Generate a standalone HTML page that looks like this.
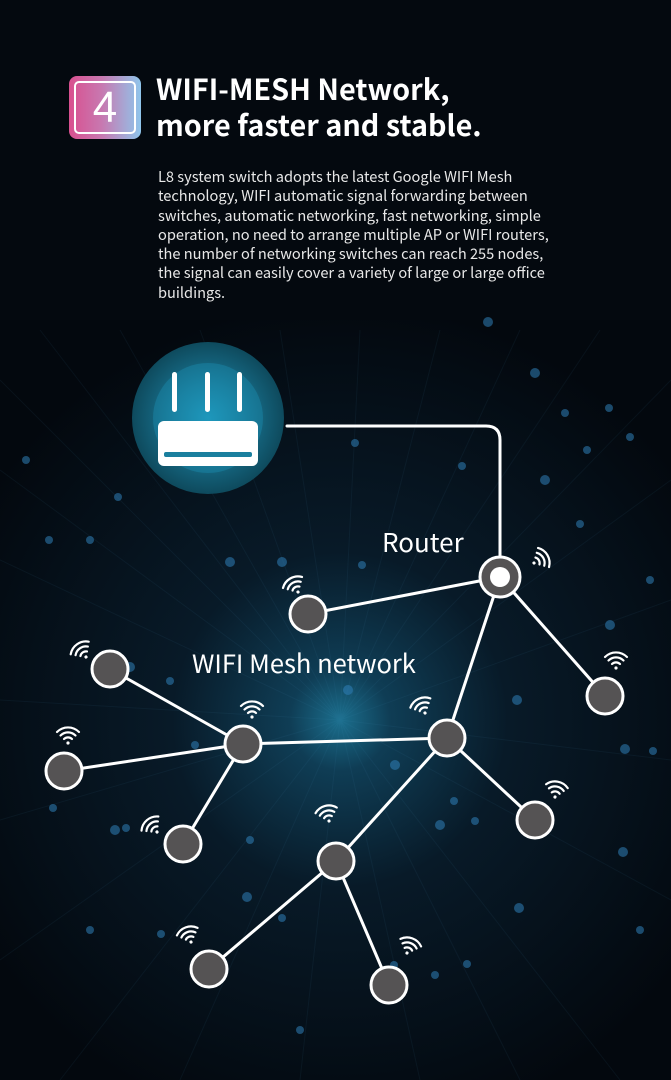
<!DOCTYPE html>
<html><head><meta charset="utf-8"><style>
html,body{margin:0;padding:0;background:#04090f;}
body{width:671px;height:1080px;position:relative;overflow:hidden;font-family:"Noto Sans CJK SC","Liberation Sans",sans-serif;}
.badge{position:absolute;left:69px;top:76px;width:72px;height:63px;border-radius:8px;background:linear-gradient(90deg,#d9508f,#c878b0 45%,#8fc6ec);}
.badge div{position:absolute;left:5px;top:5px;right:5px;bottom:5px;border:2.5px solid #fff;border-radius:5px;color:#fff;font-size:44px;text-align:center;line-height:50px;font-family:"Liberation Sans",sans-serif;}
h1{position:absolute;left:156px;top:71px;margin:0;color:#fff;font-size:28.8px;line-height:36px;font-weight:bold;white-space:nowrap;}
p{position:absolute;left:158px;top:167px;margin:0;color:#e8e8e8;font-size:14.6px;line-height:19.3px;white-space:nowrap;}
svg{position:absolute;left:0;top:0;}
</style></head><body>
<svg width="671" height="1080" viewBox="0 0 671 1080">
<defs>
<radialGradient id="bg" cx="340" cy="720" r="420" gradientUnits="userSpaceOnUse">
<stop offset="0" stop-color="#1b6f8e"/><stop offset="0.12" stop-color="#0f3d55"/><stop offset="0.4" stop-color="#081a28"/><stop offset="1" stop-color="#03080e"/></radialGradient>
<radialGradient id="rc" cx="0.5" cy="0.5" r="0.5">
<stop offset="0" stop-color="#22a9d0"/><stop offset="0.45" stop-color="#1a7f9e"/><stop offset="0.75" stop-color="#135e76"/><stop offset="1" stop-color="#0e4a5d"/></radialGradient>
<g id="wf" fill="none" stroke="#fff" stroke-width="2.2" stroke-linecap="round"><circle cx="0" cy="0" r="1.6" fill="#fff" stroke="none"/><path d="M-4,-4 A5.7,5.7 0 0 1 4,-4"/><path d="M-7.5,-7.5 A10.6,10.6 0 0 1 7.5,-7.5"/><path d="M-11,-11 A15.5,15.5 0 0 1 11,-11"/></g>
</defs>
<rect width="671" height="1080" fill="#04090f"/>
<rect y="320" width="671" height="760" fill="url(#bg)"/>
<g stroke="#4f9fc0" stroke-opacity="0.07" stroke-width="1">
<path d="M340 720L0 380M340 720L40 330M340 720L120 330M340 720L200 330M340 720L280 330M340 720L360 330M340 720L440 330M340 720L520 330M340 720L600 330M340 720L671 380M340 720L671 480M340 720L671 600M340 720L671 760M340 720L671 900M340 720L620 1080M340 720L520 1080M340 720L420 1080M340 720L300 1080M340 720L180 1080M340 720L60 1080M340 720L0 960M340 720L0 820M340 720L0 700M340 720L0 560M340 720L0 470"/>
</g>
<g fill="#2f7fb8" fill-opacity="0.55">
<circle cx="488" cy="322" r="5"/><circle cx="535" cy="373" r="5"/><circle cx="565" cy="413" r="4"/><circle cx="630" cy="437" r="4"/><circle cx="609" cy="408" r="4"/><circle cx="462" cy="466" r="4"/><circle cx="355" cy="443" r="4"/><circle cx="282" cy="562" r="5"/><circle cx="230" cy="562" r="5"/><circle cx="362" cy="565" r="4"/><circle cx="545" cy="480" r="5"/><circle cx="587" cy="450" r="4"/><circle cx="580" cy="524" r="4"/><circle cx="650" cy="580" r="4"/><circle cx="610" cy="625" r="5"/><circle cx="625" cy="749" r="5"/><circle cx="653" cy="751" r="4"/><circle cx="623" cy="852" r="5"/><circle cx="517" cy="700" r="5"/><circle cx="454" cy="801" r="4"/><circle cx="440" cy="825" r="5"/><circle cx="475" cy="821" r="4"/><circle cx="519" cy="908" r="5"/><circle cx="394" cy="965" r="4"/><circle cx="467" cy="964" r="4"/><circle cx="435" cy="975" r="4"/><circle cx="115" cy="830" r="5"/><circle cx="126" cy="828" r="4"/><circle cx="53" cy="808" r="4"/><circle cx="130" cy="667" r="5"/><circle cx="170" cy="681" r="4"/><circle cx="195" cy="745" r="4"/><circle cx="49" cy="540" r="4"/><circle cx="90" cy="540" r="4"/><circle cx="26" cy="460" r="4"/><circle cx="118" cy="497" r="4"/><circle cx="161" cy="934" r="4"/><circle cx="247" cy="897" r="5"/><circle cx="282" cy="918" r="4"/><circle cx="90" cy="930" r="4"/><circle cx="395" cy="765" r="5"/><circle cx="348" cy="690" r="5"/><circle cx="250" cy="840" r="4"/><circle cx="300" cy="1030" r="4"/><circle cx="640" cy="930" r="4"/>
</g>
<circle cx="208" cy="418" r="76" fill="url(#rc)"/>
<circle cx="208" cy="418" r="55" fill="#1a86a8" fill-opacity="0.5"/>
<g fill="#fff"><rect x="172" y="372" width="5" height="40" rx="2.5"/><rect x="205" y="372" width="5" height="40" rx="2.5"/><rect x="237" y="372" width="5" height="40" rx="2.5"/>
<rect x="158" y="421" width="100" height="45" rx="6"/></g>
<rect x="164" y="452" width="88" height="5" rx="2" fill="#1a7f9e"/>
<g fill="none" stroke="#fff" stroke-width="3" stroke-linecap="round">
<path d="M287 426H486Q500 426 500 440V560"/>
<path d="M500 577L308 614M500 577L605 696M500 577L447 738M110 669L243 744M243 744L64 771M243 744L183 844M243 744L447 738M447 738L535 820M447 738L336 861M336 861L209 969M336 861L389 985"/>
</g>
<g fill="#555354" stroke="#fff" stroke-width="3">
<circle cx="308" cy="614" r="18"/><circle cx="605" cy="696" r="18"/><circle cx="110" cy="669" r="18"/><circle cx="243" cy="744" r="18"/><circle cx="64" cy="771" r="18"/><circle cx="183" cy="844" r="18"/><circle cx="447" cy="738" r="18"/><circle cx="535" cy="820" r="18"/><circle cx="336" cy="861" r="18"/><circle cx="209" cy="969" r="18"/><circle cx="389" cy="985" r="18"/>
<circle cx="500" cy="577" r="20"/></g>
<circle cx="500" cy="577" r="10" fill="#fff"/>
<use href="#wf" transform="translate(298,592) rotate(-30)"/>
<use href="#wf" transform="translate(534,563) rotate(60)"/>
<use href="#wf" transform="translate(616,668)"/>
<use href="#wf" transform="translate(86,657) rotate(-35)"/>
<use href="#wf" transform="translate(252,717)"/>
<use href="#wf" transform="translate(68,743)"/>
<use href="#wf" transform="translate(157,832) rotate(-40)"/>
<use href="#wf" transform="translate(425,713) rotate(-25)"/>
<use href="#wf" transform="translate(329,821) rotate(-15)"/>
<use href="#wf" transform="translate(555,797) rotate(10)"/>
<use href="#wf" transform="translate(191,942) rotate(-20)"/>
<use href="#wf" transform="translate(407,953) rotate(20)"/>
<text x="382" y="552" fill="#fff" font-family="Noto Sans CJK SC,Liberation Sans,sans-serif" font-size="26">Router</text>
<text x="192" y="673" fill="#fff" font-family="Noto Sans CJK SC,Liberation Sans,sans-serif" font-size="25.5">WIFI Mesh network</text>
</svg>
<div class="badge"><div>4</div></div>
<h1>WIFI-MESH Network,<br>more faster and stable.</h1>
<p>L8 system switch adopts the latest Google WIFI Mesh<br>technology, WIFI automatic signal forwarding between<br>switches, automatic networking, fast networking, simple<br>operation, no need to arrange multiple AP or WIFI routers,<br>the number of networking switches can reach 255 nodes,<br>the signal can easily cover a variety of large or large office<br>buildings.</p>
</body></html>
